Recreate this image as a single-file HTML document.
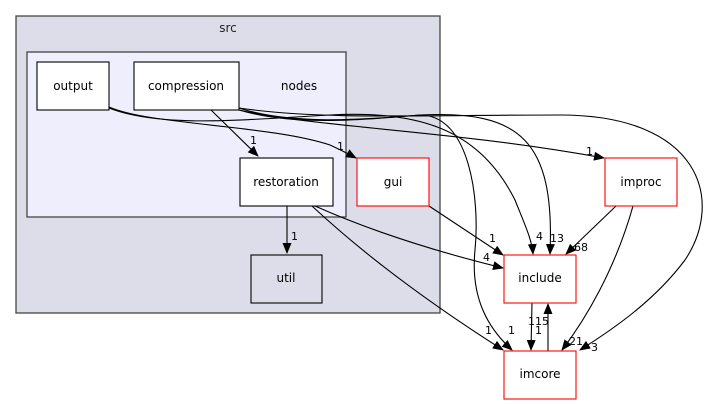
<!DOCTYPE html>
<html><head><meta charset="utf-8"><style>
html,body{margin:0;padding:0;background:#fff;width:711px;height:404px;overflow:hidden}
svg text{font-family:"DejaVu Sans","Liberation Sans",sans-serif}
</style></head><body>
<svg width="711" height="404" viewBox="0 0 711 404" xmlns="http://www.w3.org/2000/svg">
<defs><marker id="a" markerWidth="11" markerHeight="9" refX="10" refY="4.5" orient="auto" markerUnits="userSpaceOnUse"><path d="M0,0 L11,4.5 L0,9 z" fill="#000"/></marker></defs>
<rect x="16" y="16" width="424" height="297" fill="#dddde9" stroke="#444" stroke-width="1.3"/>
<text x="228" y="32" font-size="12" text-anchor="middle" fill="#222">src</text>
<rect x="27" y="52" width="319" height="165" fill="#eeeefc" stroke="#444" stroke-width="1.3"/>
<text x="299" y="90" font-size="12" text-anchor="middle" fill="#000">nodes</text>
<g fill="none" stroke="#000" stroke-width="1.1">
<path d="M211,110 L258,156" marker-end="url(#a)"/>
<path d="M109,107 C150,125 270,125 330,145 Q345,152 356,158" marker-end="url(#a)"/>
<path d="M287,206 L287,253" marker-end="url(#a)"/>
<path d="M315,206 C380,235 450,255 503,268" marker-end="url(#a)"/>
<path d="M312,206 C370,260 440,310 503,350" marker-end="url(#a)"/>
<path d="M429,206 L503,255" marker-end="url(#a)"/>
<path d="M616,206 L566,254" marker-end="url(#a)"/>
<path d="M633,206 C615,270 585,320 562,350" marker-end="url(#a)"/>
<path d="M532,303 L531,350" marker-end="url(#a)"/>
<path d="M548,351 L548,304" marker-end="url(#a)"/>
<path d="M109,108 C160,128 240,120 330,115 C420,110 480,130 515,200 C525,225 532,240 533,254" marker-end="url(#a)"/>
<path d="M239,108 C290,125 360,120 420,115 C520,110 555,140 550,254" marker-end="url(#a)"/>
<path d="M239,110 C300,128 380,118 420,115 C470,115 480,200 475,250 C470,300 490,330 512,350" marker-end="url(#a)"/>
<path d="M239,110 C320,128 450,130 604,158" marker-end="url(#a)"/>
<path d="M239,108 C320,120 420,115 560,115 C700,115 725,200 685,260 C655,300 615,328 580,350" marker-end="url(#a)"/>
</g>
<g font-size="11" fill="#000">
<text x="250" y="144">1</text>
<text x="337" y="150">1</text>
<text x="291" y="240">1</text>
<text x="483" y="261">4</text>
<text x="485" y="334">1</text>
<text x="489" y="242">1</text>
<text x="574" y="251">68</text>
<text x="569" y="345">21</text>
<text x="535" y="334">1</text>
<text x="528" y="325">115</text>
<text x="536" y="240">4</text>
<text x="550" y="242">13</text>
<text x="508" y="334">1</text>
<text x="586" y="155">1</text>
<text x="591" y="351">3</text>
</g>
<g font-size="12" text-anchor="middle">
<rect x="37" y="62" width="72" height="48" fill="#fff" stroke="#000" stroke-width="1.1"/><text x="73" y="90">output</text>
<rect x="134" y="62" width="105" height="48" fill="#fff" stroke="#000" stroke-width="1.1"/><text x="186" y="90">compression</text>
<rect x="240" y="158" width="93" height="48" fill="#fff" stroke="#000" stroke-width="1.1"/><text x="286" y="186">restoration</text>
<rect x="251" y="255" width="71" height="48" fill="#dddde9" stroke="#000" stroke-width="1.1"/><text x="286" y="282">util</text>
<rect x="357" y="158" width="72" height="48" fill="#fff" stroke="#f00" stroke-width="1.1"/><text x="393" y="186">gui</text>
<rect x="605" y="158" width="72" height="48" fill="#fff" stroke="#f00" stroke-width="1.1"/><text x="641" y="186">improc</text>
<rect x="504" y="255" width="72" height="48" fill="#fff" stroke="#f00" stroke-width="1.1"/><text x="540" y="282">include</text>
<rect x="504" y="351" width="72" height="48" fill="#fff" stroke="#f00" stroke-width="1.1"/><text x="540" y="378">imcore</text>
</g>
</svg>
</body></html>
